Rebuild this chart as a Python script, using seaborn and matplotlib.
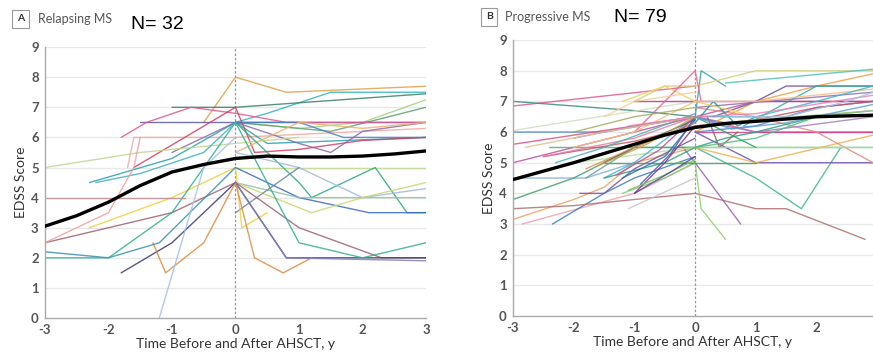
import pandas as pd
import seaborn as sns
import matplotlib.pyplot as plt

sns.set_theme(style="white")
plt.rcParams["font.family"] = ["Lato", "DejaVu Sans"]

# per-patient EDSS trajectories: (times, scores, colour)
relapsing = [
    ([-0.5, 0, 0.8, 3], [6.5, 8, 7.5, 7.7], "#e0a048"),
    ([0, 0.5, 1.5, 3], [6.5, 6.8, 7.5, 7.5], "#2fb5c0"),
    ([-1, 0, 3], [7, 7, 7.45], "#3d7f66"),
    ([0, 1, 2, 3], [6.5, 6.3, 6.5, 7.25], "#a8d080"),
    ([0, 1.5, 3], [6.5, 6.2, 7.0], "#5aa070"),
    ([-1.5, -1, 0, 3], [6.5, 6.5, 6.5, 6.5], "#5a5aa0"),
    ([-1.8, -1.4, -0.7, 0, 0.8, 3], [6, 6.5, 7, 6.8, 6.5, 6.5], "#e05a90"),
    ([-1.7, -1.6, 0, 3], [5, 6, 6, 6.3], "#f4a8a0"),
    ([0, 1, 1.7, 3], [6.5, 6.5, 6, 6], "#4a80c8"),
    ([-2.3, -1, 0, 0.5, 3], [4.5, 5.3, 6.5, 5.8, 6], "#2aa0b0"),
    ([-1.6, 0, 0.3, 1, 2, 3], [5.0, 7, 5.5, 5.6, 5.9, 6], "#d04060"),
    ([-1, 0, 1, 1.5, 2, 3], [5.5, 6.5, 5.8, 5.5, 6.2, 6.5], "#8a6aa8"),
    ([0, 0.5, 1, 2, 3], [5.5, 6, 6.5, 6.3, 6.5], "#f0b070"),
    ([-3, -1.5, 0, 1], [5, 5.5, 5.8, 6], "#c0d890"),
    ([0, 3], [5, 5], "#c0dc90"),
    ([0, 1, 1.2, 2.2, 2.7, 3], [6.5, 4.5, 4, 5, 3.5, 3.5], "#30a880"),
    ([0, 1, 2.1, 3], [5, 4, 3.5, 3.5], "#3a6ac0"),
    ([0, 1, 2, 3], [5.5, 5, 4, 4.3], "#a0b8e0"),
    ([0, 1, 3], [4.5, 4, 4], "#90c0a0"),
    ([0, 1.2, 2, 3], [4.5, 3.5, 4, 4.5], "#c8d870"),
    ([0, 1], [3.5, 5], "#7080a0"),
    ([-2.3, -1, 0, 0.1, 0.5], [3, 4, 5, 3, 3.5], "#f0d040"),
    ([-3, -2, -1, 0, 1, 2.3, 3], [2.5, 3, 3.5, 4.5, 3, 2, 2], "#a06070"),
    ([-1.8, -1, 0, 0.8, 3], [1.5, 2.5, 4.5, 2, 2], "#3a3a70"),
    ([-1.3, -1.1, -0.5, 0, 0.3, 0.75, 1.2], [2.5, 1.5, 2.5, 4.5, 2, 1.5, 2], "#e08a40"),
    ([-3, -2, -1.2, 0], [2.2, 2, 2.5, 5], "#3a90b0"),
    ([-3, -2, -1, 0, 1, 2, 3], [2, 2, 3.5, 6.5, 2.5, 2, 2.5], "#30b090"),
    ([-1.2, -0.5, 0], [0, 5, 6], "#a0c0f0"),
    ([-2.2, -1.5, -0.5, 0], [4.5, 4.8, 5.5, 6.5], "#40b0c0"),
    ([-3, -2, -1.6, -1.5], [2.5, 3.5, 5, 6], "#f0a0a0"),
    ([-3, -1.5, -0.8], [4, 4, 4], "#c09090"),
    ([0, 0.8, 3], [4.5, 2, 1.9], "#8080c0"),
]

progressive = [
    ([-3, 0], [6.85, 7.5], "#e05a90"),
    ([-3, -1, 0], [7, 6.7, 6.5], "#3a8a80"),
    ([-3, -1.5, 0, 0.5], [6, 6, 6.5, 6.3], "#4a88c8"),
    ([-3, 0, 1, 2.93], [5.6, 6.5, 6, 6], "#e05080"),
    ([-3, 0, 1, 2.93], [5, 6.5, 7, 7], "#c050a0"),
    ([-3, 0], [6.05, 7], "#d0e0c0"),
    ([-3, -1.8, -1], [4.5, 4.5, 5], "#80b0e0"),
    ([-3, -2, -1, 0], [3.8, 4.5, 5.5, 5.5], "#40a070"),
    ([-3, -2, -1.5, -1, 0], [3.15, 3.8, 4.2, 5, 5.5], "#f0a060"),
    ([-2.85, -1, 0], [3, 4, 5], "#f0a0b0"),
    ([-2.35, -1.5, -1, 0], [3, 4, 4.5, 5.2], "#3a80c0"),
    ([-3, -2, 0, 1, 1.5, 2.8], [3.5, 3.6, 4, 3.5, 3.5, 2.5], "#b07070"),
    ([-0.2, 0, 0.75], [5.5, 5, 3], "#9a60b0"),
    ([-0.3, 0, 0.1, 0.5], [5, 5, 3.5, 2.5], "#90d070"),
    ([0, 1, 1.75, 2.4], [5.5, 4.5, 3.5, 5.5], "#40b890"),
    ([-1.1, 0], [3.5, 4.5], "#c8c8c8"),
    ([-1.2, -0.5, 0], [4, 4.5, 5], "#80d080"),
    ([-1.9, -1.5, -1, 0], [4, 4, 4.8, 5.8], "#8050a0"),
    ([0, 0.1, 0.5], [6.5, 8, 7.5], "#3aa0b0"),
    ([-1, -0.5, 0, 1, 2.93], [7, 7.5, 7.5, 8, 8], "#d0d080"),
    ([0.5, 2.93], [7.6, 8.05], "#50c0c0"),
    ([0, 1, 2, 2.93], [6, 7, 7.5, 7.9], "#f0a040"),
    ([0.3, 1, 1.5, 2.93], [6.5, 7, 7.5, 7.5], "#7050a0"),
    ([0.8, 2, 2.93], [6.2, 7.5, 7.5], "#30b0a0"),
    ([-1, 0, 2.93], [7, 7, 7], "#b04090"),
    ([0, 2.93], [6.8, 7.3], "#9070b0"),
    ([0, 2.93], [6, 6], "#d04090"),
    ([-2.4, 0, 2.93], [5.5, 5.5, 5.5], "#50b070"),
    ([0, 1, 2.93], [6, 5, 5], "#7050b0"),
    ([0, 1, 2.93], [5.5, 5, 5.9], "#f0b050"),
    ([0, 1, 2, 2.93], [6.8, 6.5, 6, 5], "#e09080"),
    ([0.2, 0.4, 0.7], [6.5, 5.5, 6], "#a06050"),
    ([0, 0.3, 0.7, 1], [6.3, 7, 6.2, 6.5], "#2090a0"),
    ([-1.5, 0, 1], [5, 5, 5], "#40a060"),
    ([-2, 0, 1.5, 2.93], [5, 5.5, 5.5, 5.5], "#b0e0a0"),
    ([-1.2, -0.5, 0, 1], [7, 7.5, 7, 6.5], "#f0d060"),
    ([-1, 0, 0.1], [6, 8, 7], "#f06090"),
    ([0, 1, 2, 2.93], [6, 6.2, 6.8, 7], "#5080d0"),
    ([-2, -1, 0, 1, 2.93], [5.5, 6, 7, 7, 7.4], "#f8c080"),
    ([-1.5, -1, 0, 1, 2, 2.93], [4.5, 5, 6.5, 6.5, 7, 7.5], "#40b8d0"),
    ([-2, -1, 0, 0.5, 1, 2.93], [5.8, 6.2, 6.5, 6.2, 6, 6.5], "#a080c0"),
    ([-2.5, -1, 0, 1, 2, 2.93], [5.2, 5.7, 6.2, 6.4, 6.8, 7], "#d05060"),
    ([-1.5, -0.5, 0, 0.5, 1, 2], [4.5, 5, 5.5, 5.8, 6, 6.5], "#30a080"),
    ([-2, -1, 0], [6, 6.5, 6.8], "#a0b060"),
    ([-1.8, -1, 0], [4.5, 5.5, 6.3], "#70a0a0"),
    ([-1.5, -1, 0], [6.5, 7, 7.3], "#f8d090"),
    ([0, 1, 2, 2.93], [5.5, 5.8, 6.5, 6.7], "#50c080"),
    ([-1.2, -0.5, 0], [4.5, 5.2, 6.4], "#2a70b0"),
    ([-1, -0.5, 0], [4, 5, 6.2], "#903080"),
    ([-1.5, -0.7, 0], [5, 5.8, 6.4], "#306070"),
    ([-2.5, -1, 0], [5.2, 5.8, 6.5], "#e080a0"),
    ([-1.8, -1, 0], [4.8, 5.5, 6.3], "#e09050"),
    ([-1.1, -0.5, 0], [4.1, 4.6, 5.1], "#70c060"),
    ([-1, -0.4, 0], [4, 4.7, 5.2], "#6040a0"),
    ([-2.3, -1.5, 0], [5, 5.5, 6.6], "#50b0b0"),
    ([-2.8, -1.5, 0], [5.5, 6, 6.5], "#e0c090"),
    ([0, 0.5, 1], [6.5, 6, 5.5], "#30a070"),
    ([-1.1, 0, 1, 2.93], [6.2, 6.5, 6.6, 7.2], "#f080b0"),
    ([0.5, 1.5, 2.5, 2.93], [6.5, 6.5, 7, 7.3], "#a0c0e0"),
    ([0, 1, 2.93], [6.2, 6.4, 6.7], "#a0c080"),
    ([-1.3, -0.6, 0], [4.6, 5.4, 6.5], "#c05090"),
    ([-0.9, -0.4, 0], [4.3, 5.3, 6.5], "#4060b0"),
    ([-1.6, -0.8, 0], [4.9, 5.6, 6.5], "#d0a040"),
    ([0, 0.6, 1.5, 2.93], [6.5, 6.1, 6.3, 6.9], "#60a0d0"),
]

# group mean curves
mean_a_x = [-3, -2.5, -2, -1.5, -1, -0.5, 0, 0.5, 1, 1.5, 2, 2.5, 3]
mean_a_y = [3.05, 3.4, 3.85, 4.4, 4.85, 5.1, 5.3, 5.38, 5.35, 5.35, 5.38, 5.45, 5.55]
mean_b_x = [-3, -2, -1, -0.5, 0, 0.5, 1, 2, 2.93]
mean_b_y = [4.45, 5.0, 5.6, 5.9, 6.15, 6.28, 6.35, 6.5, 6.55]


def to_frame(trajs):
    rows = []
    for i, (xs, ys, c) in enumerate(trajs):
        for x, y in zip(xs, ys):
            rows.append({"pid": i, "t": x, "edss": y})
    return pd.DataFrame(rows)


fig = plt.figure(figsize=(8.73, 3.56), dpi=100)
ax_a = fig.add_axes([0.0515, 0.1067, 0.4365, 0.761])
ax_b = fig.add_axes([0.5876, 0.1124, 0.4124, 0.775])

panels = [
    (ax_a, relapsing, mean_a_x, mean_a_y, (-3, 3), [-3, -2, -1, 0, 1, 2, 3]),
    (ax_b, progressive, mean_b_x, mean_b_y, (-3, 2.93), [-3, -2, -1, 0, 1, 2]),
]

for ax, trajs, mx, my, xlim, xticks in panels:
    df = to_frame(trajs)
    pal = [c for _, _, c in trajs]
    for y in range(1, 10):
        ax.axhline(y, color="#e8e8e8", lw=1.0, zorder=0)
    ax.axvline(0, color="#999999", lw=0.9, ls=(0, (2, 1.5)), zorder=0.5)
    sns.lineplot(
        data=df, x="t", y="edss",
        hue="pid", units="pid", estimator=None, sort=False,
        palette=pal, legend=False, lw=1.0, alpha=0.85, ax=ax
    )
    sns.lineplot(x=mx, y=my, color="black", lw=2.4, ax=ax, zorder=5)
    ax.set_xlim(*xlim)
    ax.set_ylim(0, 9)
    ax.set_xticks(xticks)
    ax.set_xticklabels([str(t) for t in xticks])
    ax.set_yticks(range(10))
    for s in ["top", "right"]:
        ax.spines[s].set_visible(False)
    for s in ["left", "bottom"]:
        ax.spines[s].set_color("#aaaaaa")
        ax.spines[s].set_linewidth(1.0)
    ax.tick_params(axis="both", colors="#aaaaaa", labelcolor="#555555",
                   labelsize=9.5, length=3, width=1.0, direction="out", pad=1.5)
    for lab in ax.get_xticklabels() + ax.get_yticklabels():
        lab.set_fontweight("bold")
    ax.set_xlabel("Time Before and After AHSCT, y", fontsize=10,
                  color="#333333", labelpad=1)
    ax.set_ylabel("EDSS Score", fontsize=10, color="#333333", labelpad=3)

box = dict(boxstyle="square,pad=0.45", fc="white", ec="#999999", lw=0.8)
fig.text(0.0235, 0.947, "A", fontsize=7.5, fontweight="bold", color="#333333",
         va="center", ha="center", bbox=box)
fig.text(0.043, 0.947, "Relapsing MS", fontsize=9, color="#555555", va="center")
fig.text(0.15, 0.93, "N= 32", fontsize=14, color="black", va="center",
         family=["Liberation Sans", "DejaVu Sans"])

fig.text(0.5605, 0.953, "B", fontsize=7.5, fontweight="bold", color="#333333",
         va="center", ha="center", bbox=box)
fig.text(0.579, 0.953, "Progressive MS", fontsize=9, color="#555555", va="center")
fig.text(0.703, 0.95, "N= 79", fontsize=14, color="black", va="center",
         family=["Liberation Sans", "DejaVu Sans"])

plt.savefig("out.png", dpi=100)
